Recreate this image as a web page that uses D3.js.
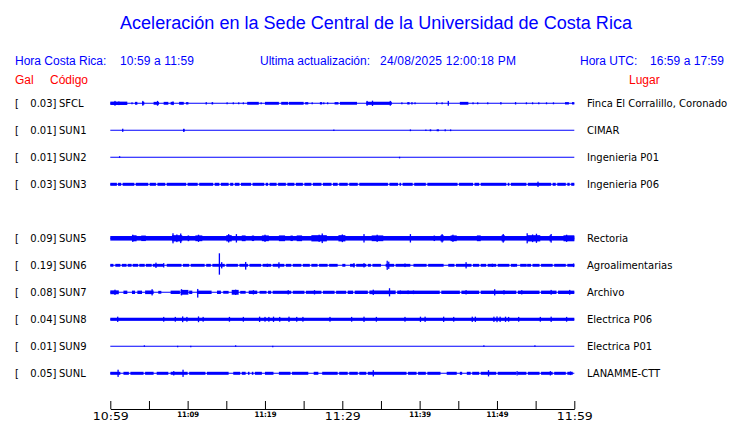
<!DOCTYPE html>
<html>
<head>
<meta charset="utf-8">
<script src="https://cdn.jsdelivr.net/npm/d3@7"></script>
<style>
  body { margin: 0; background: #fff; }
  svg { display: block; }
</style>
</head>
<body>
<div id="chart"></div>
<script>
// rows of the plot (SUN4 slot is empty in the source image)
const slots = ["SFCL", "SUN1", "SUN2", "SUN3", "SUN4", "SUN5", "SUN6", "SUN7", "SUN8", "SUN9", "SUNL"]
const codes = ["SFCL", "SUN1", "SUN2", "SUN3", "SUN5", "SUN6", "SUN7", "SUN8", "SUN9", "SUNL"]
const peakGal = [0.03, 0.01, 0.01, 0.03, 0.09, 0.19, 0.08, 0.04, 0.01, 0.05]
const places = ["Finca El Corralillo, Coronado", "CIMAR", "Ingenieria P01", "Ingenieria P06", "Rectoria",
                "Agroalimentarias", "Archivo", "Electrica P06", "Electrica P01", "LANAMME-CTT"]
const tickLabels = ["10:59", "", "11:09", "", "11:19", "", "11:29", "", "11:39", "", "11:49", "", "11:59"]

// envelope segments: [start min, end min, relative amplitude], minutes after 10:59
const bandSFCL = [[0,2.2,0.14],[3.2,3.5,0.12],[4.1,4.4,0.12],[5.6,6.3,0.12],[6.9,7.5,0.12],[7.8,8.2,0.12],
  [8.9,9.5,0.12],[9.8,10.1,0.1],[13.1,13.3,0.1],[17.7,19.2,0.12],[20,21.8,0.12],[22.1,23,0.12],[23.1,25,0.12],
  [25.2,25.6,0.1],[27.1,27.4,0.1],[29,29.5,0.1],[29.7,31.9,0.12],[33.1,36.4,0.13],[38.4,38.7,0.1],
  [45.2,46.3,0.12],[58.8,59.3,0.1],[59.7,60,0.1]]
const bandSUN1 = [[9.4,9.6,0.1],[41.3,41.5,0.08],[42.2,42.5,0.08]]
const bandSUN2 = []
const bandSUN3 = [[0,0.85,0.125],[1,1.4,0.125],[1.6,3.1,0.125],[3.3,4.9,0.125],[5.1,5.9,0.125],[6.1,7.1,0.125],
  [7.3,9.8,0.125],[10,11.3,0.125],[11.5,13.3,0.125],[13.5,14.1,0.125],[14.3,15.3,0.125],[15.5,15.9,0.125],
  [16.1,16.7,0.125],[16.9,18.2,0.125],[18.4,19.9,0.125],[20.1,20.4,0.125],[20.6,21.5,0.125],[21.7,22.7,0.125],
  [22.9,23.8,0.125],[24,24.9,0.125],[25.1,26,0.125],[26.2,27.3,0.125],[27.5,28.6,0.125],[28.8,29.4,0.125],
  [29.6,30.7,0.125],[30.9,32,0.125],[32.2,35.9,0.125],[36.1,37.2,0.125],[37.4,37.6,0.125],[37.8,39.1,0.125],
  [39.3,40.8,0.125],[41,44.9,0.125],[45.1,46.9,0.125],[47.1,47.7,0.125],[47.9,51.2,0.125],[51.4,51.6,0.125],
  [51.8,53.8,0.125],[54,57,0.125],[57.2,57.6,0.125],[57.8,58.9,0.125],[59.1,59.4,0.125],[59.6,60,0.125]]
const bandSUN5 = [[0,60,0.19],[2.8,3.4,0.25],[4,4.6,0.23],[8,9.3,0.26],[10,10.2,0.24],[11,11.9,0.24],[15,15.7,0.26],
  [17,17.5,0.24],[18.3,18.6,0.23],[19.6,20.5,0.24],[21.8,22.6,0.24],[23.3,23.6,0.23],[24.1,24.8,0.24],
  [26,28,0.26],[29.5,30.4,0.26],[33.8,35.3,0.24],[41.8,42,0.23],[42.7,43.1,0.26],[44,44.8,0.24],[47.4,47.9,0.24],
  [50.6,51,0.26],[53.9,55.6,0.26],[56.8,57,0.26],[58.6,60,0.25]]
const bandSUN6 = [[0,0.4,0.12],[0.65,1.3,0.12],[1.5,2.1,0.12],[2.25,2.75,0.12],[2.9,3.6,0.12],[3.75,4.45,0.12],
  [4.6,5.35,0.12],[5.5,6.9,0.12],[7.3,9.2,0.12],[9.4,10.2,0.12],[10.4,12.2,0.12],[12.4,13,0.12],[13.2,14.8,0.12],
  [15,16.5,0.12],[16.7,17.8,0.12],[18,19.5,0.12],[19.7,20.8,0.12],[21,22.5,0.12],[22.7,23.4,0.12],
  [23.6,24.7,0.12],[24.9,25.8,0.12],[26,26.8,0.12],[27,28.1,0.12],[28.3,29.4,0.12],[30,30.4,0.12],
  [31,31.6,0.12],[31.8,33.1,0.12],[33.3,33.7,0.12],[33.9,35,0.12],[35.6,36.7,0.12],[36.9,38.8,0.12],
  [39.2,40.9,0.12],[41.1,43.1,0.12],[43.7,44.5,0.12],[44.7,46.7,0.12],[46.9,47.7,0.12],[47.9,48.6,0.12],
  [48.8,49.9,0.12],[50.1,51.6,0.12],[51.8,52.6,0.12],[53,53.8,0.12],[54,54.4,0.12],[54.6,55.5,0.12],
  [55.7,57.2,0.12],[57.4,58.9,0.12],[59.1,60,0.12]]
const bandSUN7 = [[0,1.1,0.16],[1.7,2.2,0.14],[2.8,3.2,0.14],[3.5,4.1,0.14],[4.5,5.6,0.15],[6.2,6.6,0.12],
  [7.8,9,0.14],[9.1,10.1,0.2],[10.2,10.6,0.14],[11.2,13.1,0.14],[13.8,14.3,0.14],[14.6,15.3,0.12],
  [15.7,16.6,0.2],[16.8,17.5,0.12],[17.9,19,0.14],[19.3,20.2,0.12],[20.4,20.8,0.13],[21,23.4,0.13],
  [23.6,25.1,0.13],[25.3,27.3,0.13],[27.5,29,0.13],[29.2,30.5,0.13],[30.7,31.4,0.14],[31.6,33.3,0.14],
  [33.5,36.9,0.15],[37.1,42.6,0.14],[42.8,45.2,0.14],[45.4,47.7,0.14],[47.9,52.5,0.14],[52.7,55.5,0.14],
  [55.7,57.7,0.14],[57.9,60,0.14]]
const bandSUN8 = [[0,60,0.13]]
const bandSUN9 = []
const bandSUNL = [[0,1.3,0.125],[1.7,2.4,0.125],[2.6,4.3,0.125],[4.5,5.6,0.125],[6,7.5,0.125],[7.8,10,0.125],
  [10.2,12.3,0.125],[12.5,15.3,0.125],[15.9,16.8,0.125],[17,17.5,0.125],[17.8,18,0.125],[18.3,18.5,0.125],
  [18.7,19.6,0.125],[20,21.1,0.125],[21.8,23.3,0.125],[23.5,25.6,0.125],[26.3,26.9,0.125],[27.4,29.4,0.125],
  [29.6,30.7,0.125],[30.9,32,0.125],[32.2,33.1,0.125],[33.3,38.3,0.125],[38.5,39.6,0.125],[39.8,40.8,0.125],
  [41,42.7,0.125],[43.5,44.8,0.125],[45.2,45.5,0.125],[46.1,46.6,0.125],[46.8,47.7,0.125],[47.9,49.9,0.125],
  [50.1,52.5,0.125],[52.7,53.8,0.125],[54,55.5,0.125],[55.7,57.2,0.125],[57.4,58.9,0.125],[59.1,59.8,0.125]]

// isolated peaks: [minute, amplitude up, amplitude down (optional)]
const spikeSFCL = [[0.6,0.2],[1.1,0.15],[2.8,0.08],[4.2,0.2],[6.1,0.2],[8.1,0.15],[12.4,0.1],[15.1,0.08],
  [15.9,0.08],[16.6,0.08],[17.2,0.08],[19.5,0.08],[26.1,0.08],[27.6,0.08],[28.1,0.08],[33.2,0.2],[33.9,0.22],
  [36.2,0.2],[37.7,0.08],[39,0.1],[39.4,0.08],[42.2,0.1],[42.9,0.08],[43.7,0.2],[46.9,0.08],[47.5,0.08],
  [48.8,0.08],[50.5,0.1],[52.4,0.1],[53.8,0.08],[54.6,0.08],[55.4,0.08],[56.4,0.08],[57.3,0.08]]
const spikeSUN1 = [[1.6,0.13],[9.5,0.13],[28.9,0.06],[38.8,0.07],[40.8,0.06],[43.3,0.08],[44,0.07]]
const spikeSUN2 = [[1.2,0.09,0.02],[37.4,0.02,0.09]]
const spikeSUN3 = [[55.3,0.22]]
const spikeSUN5 = [[2.9,0.3],[8.1,0.42],[8.6,0.32],[9.1,0.4],[11.4,0.3],[15.3,0.35],[16.3,0.35],[20,0.3],
  [27,0.3],[27.4,0.4],[30,0.32],[32.8,0.35],[34.5,0.3],[38.8,0.35],[42.9,0.35],[44.3,0.3],[50.8,0.36],
  [53.9,0.42],[54.6,0.32],[55.1,0.38],[57,0.36],[59,0.3]]
const spikeSUN6 = [[5.9,0.22],[6.9,0.18],[14.1,1.0,0.78],[14.4,0.26],[17.5,0.28,0.36],[20.3,0.13],[21.8,0.25],
  [31.5,0.18],[32.8,0.18],[35.8,0.38],[36,0.3],[38.1,0.15],[46,0.26],[49.4,0.13],[52.2,0.1],[53.9,0.12],[59.9,0.15]]
const spikeSUN7 = [[0.6,0.22],[5.4,0.26],[9.2,0.26],[11.3,0.28,0.44],[16.2,0.22],[18.5,0.18],[23,0.18],[26.4,0.18],
  [34,0.22],[36.1,0.34],[37.5,0.15],[38.5,0.15],[39.2,0.15],[46,0.18],[49.7,0.26],[50.9,0.18],[53.2,0.18],
  [57,0.2],[59.4,0.2]]
const spikeSUN8 = [[0.95,0.22],[6.9,0.2],[8.4,0.2],[9.35,0.24],[9.9,0.2],[11.4,0.24],[12,0.2],[15.4,0.2],
  [17.2,0.2],[19.3,0.22],[20,0.2],[20.5,0.2],[21.1,0.22],[21.9,0.2],[23.1,0.22],[24.1,0.2],[24.9,0.2],
  [28.4,0.2],[31.2,0.2],[32.8,0.22],[34.4,0.2],[38.1,0.2],[40.1,0.22],[40.7,0.22],[43.1,0.22],[44.4,0.2],
  [46.8,0.22],[47.2,0.22],[49.6,0.22],[50,0.24],[50.4,0.22],[51.1,0.22],[51.5,0.2],[52.8,0.2],[55.6,0.2],
  [57,0.22],[59,0.2]]
const spikeSUN9 = [[4.4,0.08,0],[8.7,0,0.08],[10.4,0,0.08],[16.2,0.08,0],[21,0,0.08],[48.3,0.08,0],[54.9,0.08,0]]
const spikeSUNL = [[1,0.3],[8.2,0.18],[9.4,0.3],[34,0.26],[48.9,0.26],[52.6,0.18],[56.9,0.18],[59.5,0.15]]

const bands = [bandSFCL, bandSUN1, bandSUN2, bandSUN3, bandSUN5, bandSUN6, bandSUN7, bandSUN8, bandSUN9, bandSUNL]
const spikes = [spikeSFCL, spikeSUN1, spikeSUN2, spikeSUN3, spikeSUN5, spikeSUN6, spikeSUN7, spikeSUN8, spikeSUN9, spikeSUNL]

const W = 740, H = 423
const blue = "#0000ff", red = "#ff0000"

const svg = d3.select("#chart").append("svg")
    .attr("width", W)
    .attr("height", H)

const x = d3.scaleLinear().domain([0, 60]).range([110.3, 574.3])
const y = d3.scalePoint().domain(slots).range([103.3, 373.3])
const amp = d3.scaleLinear().domain([0, 1]).range([0, 12])

// header
svg.append("text")
    .attr("x", 120).attr("y", 29)
    .attr("textLength", 512).attr("lengthAdjust", "spacingAndGlyphs")
    .style("font", "18px 'Liberation Sans', Arial, sans-serif")
    .style("fill", blue)
    .text("Aceleración en la Sede Central de la Universidad de Costa Rica")

const header = [
    { x: 15, y: 64.5, t: "Hora Costa Rica:", c: blue },
    { x: 120, y: 64.5, t: "10:59 a 11:59", c: blue, len: 74 },
    { x: 260, y: 64.5, t: "Ultima actualización:", c: blue },
    { x: 380, y: 64.5, t: "24/08/2025 12:00:18 PM", c: blue, len: 136 },
    { x: 580, y: 64.5, t: "Hora UTC:", c: blue },
    { x: 650, y: 64.5, t: "16:59 a 17:59", c: blue, len: 74 },
    { x: 15, y: 84, t: "Gal", c: red },
    { x: 50, y: 84, t: "Código", c: red },
    { x: 629, y: 84, t: "Lugar", c: red }
]
svg.append("g").selectAll("text")
    .data(header)
    .join("text")
    .attr("x", d => d.x).attr("y", d => d.y)
    .attr("textLength", d => d.len || null)
    .style("font", "12px 'Liberation Sans', Arial, sans-serif")
    .style("fill", d => d.c)
    .text(d => d.t)

// traces
const traces = codes.map((c, i) => ({ code: c, gal: peakGal[i], place: places[i], bands: bands[i], spikes: spikes[i] }))

const row = svg.append("g").selectAll(".trace")
    .data(traces)
    .join("g")
    .attr("class", "trace")
    .attr("transform", d => `translate(0,${y(d.code)})`)

const labelFont = "10px 'DejaVu Sans', Verdana, sans-serif"
row.append("text").attr("x", 15).attr("y", 4).style("font", labelFont).text("[")
row.append("text").attr("x", 56.5).attr("y", 4).attr("text-anchor", "end").style("font", labelFont)
    .text(d => d.gal.toFixed(2) + "]")
row.append("text").attr("x", 59).attr("y", 4).style("font", labelFont).text(d => d.code)
row.append("text").attr("x", 587).attr("y", 4).style("font", labelFont).text(d => d.place)

row.append("line")
    .attr("x1", x(0)).attr("x2", x(60))
    .attr("y1", 0).attr("y2", 0)
    .style("stroke", blue)
    .style("stroke-width", 1.1)

row.selectAll(".band")
    .data(d => d.bands)
    .join("rect")
    .attr("class", "band")
    .attr("x", d => x(d[0]))
    .attr("width", d => x(d[1]) - x(d[0]))
    .attr("y", d => -amp(d[2]))
    .attr("height", d => 2 * amp(d[2]))
    .style("fill", blue)

row.selectAll(".spike")
    .data(d => d.spikes)
    .join("rect")
    .attr("class", "spike")
    .attr("x", d => x(d[0]) - 0.6)
    .attr("width", 1.3)
    .attr("y", d => -Math.max(0.5, amp(d[1])))
    .attr("height", d => Math.max(0.5, amp(d[1])) + Math.max(0.5, amp(d.length > 2 ? d[2] : d[1])))
    .style("fill", blue)

// time axis
const axis = d3.axisBottom(x)
    .tickValues(d3.range(0, 61, 5))
    .tickSize(-8)
    .tickSizeOuter(0)
    .tickFormat((d, i) => tickLabels[i])

const gx = svg.append("g")
    .attr("transform", "translate(0,409)")
    .call(axis)

gx.select(".domain").style("stroke", "#000").style("stroke-width", 1)
gx.selectAll(".tick line").style("stroke", "#000").style("stroke-width", 1)
gx.selectAll(".tick text")
    .attr("dy", null)
    .attr("y", (d, i) => i % 6 === 0 ? 10.5 : 8.3)
    .attr("textLength", (d, i) => i % 6 === 0 ? 36 : 22)
    .attr("lengthAdjust", "spacingAndGlyphs")
    .style("font", (d, i) => i % 6 === 0
        ? "11px 'DejaVu Sans', sans-serif"
        : "bold 7.5px 'DejaVu Sans', sans-serif")
    .style("fill", "#000")
</script>
</body>
</html>
